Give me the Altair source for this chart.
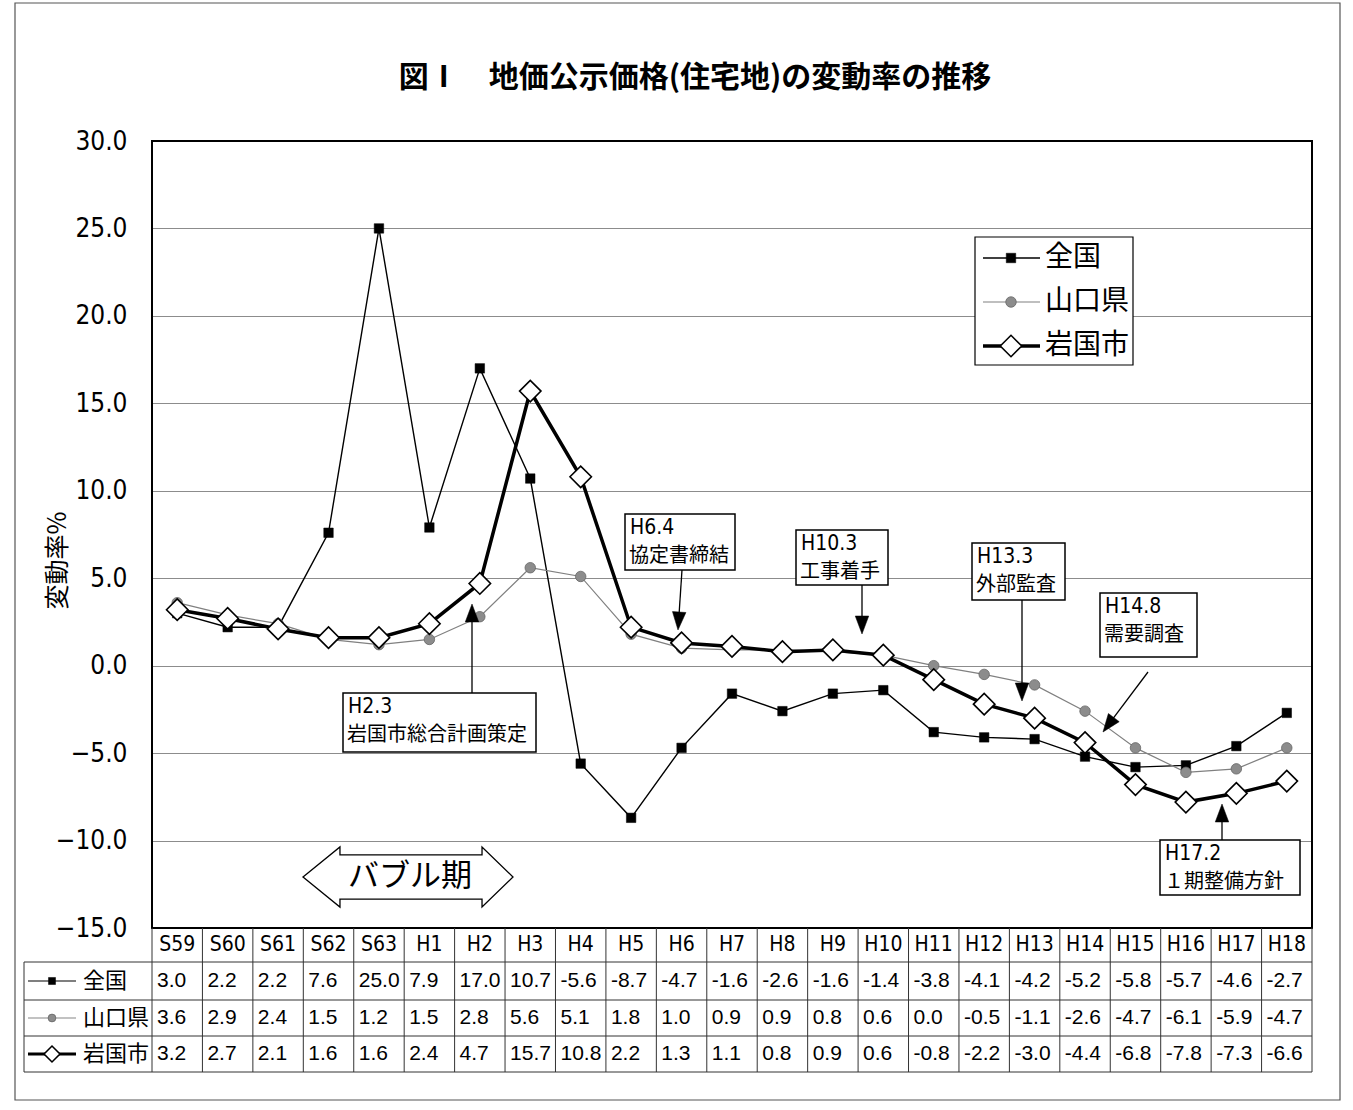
import math
import altair as alt
import pandas as pd

# ---------------- data ----------------
years = ["S59", "S60", "S61", "S62", "S63", "H1", "H2", "H3", "H4", "H5", "H6", "H7",
         "H8", "H9", "H10", "H11", "H12", "H13", "H14", "H15", "H16", "H17", "H18"]
zenkoku = [3.0, 2.2, 2.2, 7.6, 25.0, 7.9, 17.0, 10.7, -5.6, -8.7, -4.7, -1.6,
           -2.6, -1.6, -1.4, -3.8, -4.1, -4.2, -5.2, -5.8, -5.7, -4.6, -2.7]
yamaguchi = [3.6, 2.9, 2.4, 1.5, 1.2, 1.5, 2.8, 5.6, 5.1, 1.8, 1.0, 0.9,
             0.9, 0.8, 0.6, 0.0, -0.5, -1.1, -2.6, -4.7, -6.1, -5.9, -4.7]
iwakuni = [3.2, 2.7, 2.1, 1.6, 1.6, 2.4, 4.7, 15.7, 10.8, 2.2, 1.3, 1.1,
           0.8, 0.9, 0.6, -0.8, -2.2, -3.0, -4.4, -6.8, -7.8, -7.3, -6.6]
series_names = ["全国", "山口県", "岩国市"]
series_values = [zenkoku, yamaguchi, iwakuni]
y_ticks = [-15, -10, -5, 0, 5, 10, 15, 20, 25, 30]
title_text = "図Ⅰ　地価公示価格(住宅地)の変動率の推移"
y_title = "変動率%"
event_dates = ["H6.4", "H10.3", "H13.3", "H14.8", "H2.3", "H17.2"]
event_names = ["協定書締結", "工事着手", "外部監査", "需要調査", "岩国市総合計画策定", "１期整備方針"]
bubble_label = "バブル期"

# ---------------- layout (pixels) ----------------
L, T = 152, 141
W, HP = 1160, 787
TABLE_H = 144
NCOL = len(years)
COLW = W / NCOL
PPU = HP / 45.0
YMIN = -15 - TABLE_H / PPU
CANVAS_W, CANVAS_H = 1353, 1110

CJK = "Noto Sans CJK JP"
NARROW = "Liberation Sans Narrow, DejaVu Sans Condensed, Liberation Sans, sans-serif"
NUM = "Liberation Sans, sans-serif"


def fx(px):
    return -0.5 + (px - L) / COLW


def fy(py):
    return 30 - (py - T) / PPU


xs = alt.Scale(domain=[-0.5, NCOL - 0.5], nice=False, zero=False)
ys = alt.Scale(domain=[YMIN, 30], nice=False, zero=False)

y_axis = alt.Axis(values=y_ticks, format=".1f", grid=True, gridColor="#8c8c8c", gridWidth=1,
                  domain=False, ticks=False, tickSize=0, labelFont=NARROW, labelFontSize=26,
                  labelColor="black", labelPadding=25, labelFlush=False, labelOverlap=False,
                  labelBound=False, title=y_title, titleFont=CJK, titleFontSize=25,
                  titleFontWeight="normal", titleColor="black", titleAngle=270,
                  titleX=-95, titleY=419, titleAlign="center", titleBaseline="middle")


def X(f="x"):
    return alt.X(f"{f}:Q", scale=xs, axis=None)


def Y(f="y"):
    return alt.Y(f"{f}:Q", scale=ys, axis=y_axis)


STYLE = {
    "全国": dict(color="black", width=1.4, shape="square", size=90, fill="black",
               stroke="black", sw=0.5),
    "山口県": dict(color="#808080", width=1.2, shape="circle", size=110, fill="#8c8c8c",
                stroke="#666666", sw=0.8),
    "岩国市": dict(color="black", width=3.5, shape="diamond", size=460, fill="white",
                stroke="black", sw=1.6),
}

layers = []

# outer frame of the figure
outer = pd.DataFrame([{"x": fx(15), "x2": fx(1340), "y": fy(3), "y2": fy(1100)}])
layers.append(alt.Chart(outer).mark_rect(fillOpacity=0, stroke="#555555", strokeWidth=1.2)
              .encode(x=X(), x2="x2:Q", y=Y(), y2="y2:Q"))

# title
tdf = pd.DataFrame([{"x": fx(695), "y": fy(78), "t": title_text}])
layers.append(alt.Chart(tdf).mark_text(font=CJK, fontSize=30, fontWeight="bold", align="center",
                                        baseline="middle", color="black")
              .encode(x=X(), y=Y(), text="t:N"))

# plot frame
frame = pd.DataFrame([{"x": -0.5, "x2": NCOL - 0.5, "y": -15, "y2": 30}])
layers.append(alt.Chart(frame).mark_rect(fillOpacity=0, stroke="black", strokeWidth=2)
              .encode(x=X(), x2="x2:Q", y=Y(), y2="y2:Q"))

# ---------------- table ----------------
row_off = [0, 34, 72, 108, 144]
vr = [{"x": i - 0.5, "x2": i - 0.5, "y": -15, "y2": YMIN} for i in range(NCOL + 1)]
vr.append({"x": fx(L - 128), "x2": fx(L - 128), "y": fy(T + HP + row_off[1]), "y2": YMIN})
for off in row_off[1:]:
    vr.append({"x": fx(L - 128), "x2": NCOL - 0.5, "y": fy(T + HP + off), "y2": fy(T + HP + off)})
layers.append(alt.Chart(pd.DataFrame(vr)).mark_rule(color="#333333", strokeWidth=1)
              .encode(x=X(), x2="x2:Q", y=Y(), y2="y2:Q"))

hdr = pd.DataFrame([{"x": i, "y": fy(T + HP + 17), "t": yr} for i, yr in enumerate(years)])
layers.append(alt.Chart(hdr).mark_text(font=NARROW, fontSize=21, align="center", baseline="middle",
                                        color="black")
              .encode(x=X(), y=Y(), text="t:N"))

row_centers = [53, 90, 126]
vals = []
for r, (name, arr) in enumerate(zip(series_names, series_values)):
    for i, v in enumerate(arr):
        vals.append({"x": i - 0.5, "y": fy(T + HP + row_centers[r]), "t": f"{v:.1f}"})
layers.append(alt.Chart(pd.DataFrame(vals)).mark_text(font=NUM, fontSize=21, align="left",
                                                      baseline="middle", dx=5, color="black")
              .encode(x=X(), y=Y(), text="t:N"))


def legend_sample(name, x0, x1, xm, xt, cy, fsize, msize_scale, line_scale=1.0):
    st = STYLE[name]
    out = []
    ln = pd.DataFrame([{"x": fx(x0), "x2": fx(x1), "y": fy(cy), "y2": fy(cy)}])
    out.append(alt.Chart(ln).mark_rule(color=st["color"], strokeWidth=st["width"] * line_scale)
               .encode(x=X(), x2="x2:Q", y=Y(), y2="y2:Q"))
    pt = pd.DataFrame([{"x": fx(xm), "y": fy(cy)}])
    out.append(alt.Chart(pt).mark_point(shape=st["shape"], size=st["size"] * msize_scale,
                                        filled=True, fill=st["fill"], stroke=st["stroke"],
                                        strokeWidth=st["sw"], opacity=1)
               .encode(x=X(), y=Y()))
    tx = pd.DataFrame([{"x": fx(xt), "y": fy(cy), "t": name}])
    out.append(alt.Chart(tx).mark_text(font=CJK, fontSize=fsize, align="left", baseline="middle",
                                       color="black")
               .encode(x=X(), y=Y(), text="t:N"))
    return out


for r, name in enumerate(series_names):
    layers += legend_sample(name, L - 124, L - 76, L - 100, L - 69,
                            T + HP + row_centers[r], 22, 0.55, 0.8)

# ---------------- series ----------------
for name, arr in zip(series_names, series_values):
    st = STYLE[name]
    df = pd.DataFrame({"x": list(range(NCOL)), "y": arr, "year": years})
    layers.append(alt.Chart(df).mark_line(color=st["color"], strokeWidth=st["width"])
                  .encode(x=X(), y=Y()))
for name, arr in zip(series_names, series_values):
    st = STYLE[name]
    df = pd.DataFrame({"x": list(range(NCOL)), "y": arr, "year": years})
    layers.append(alt.Chart(df).mark_point(shape=st["shape"], size=st["size"], filled=True,
                                           fill=st["fill"], stroke=st["stroke"],
                                           strokeWidth=st["sw"], opacity=1)
                  .encode(x=X(), y=Y()))

# ---------------- in-plot legend ----------------
lbox = pd.DataFrame([{"x": fx(975), "x2": fx(1133), "y": fy(237), "y2": fy(365)}])
layers.append(alt.Chart(lbox).mark_rect(fill="white", stroke="black", strokeWidth=1.2)
              .encode(x=X(), x2="x2:Q", y=Y(), y2="y2:Q"))
for name, cy in zip(series_names, [258, 302, 346]):
    layers += legend_sample(name, 983, 1040, 1011, 1045, cy, 28, 1.0, 1.0)

# ---------------- annotations ----------------
boxes = [(625, 514, 735, 570), (796, 530, 888, 585), (972, 543, 1065, 600),
         (1100, 593, 1197, 657), (343, 693, 536, 752), (1160, 840, 1300, 895)]
arrows = [((682, 570), (678, 630)), ((862, 585), (862, 634)), ((1022, 600), (1022, 701)),
          ((1148, 672), (1103, 732)), ((472, 693), (472, 604)), ((1222, 840), (1222, 804))]

brows, trows, arows, hrows = [], [], [], []
HEAD = 18
for (d, n, (x0, y0, x1, y1), (a0, a1)) in zip(event_dates, event_names, boxes, arrows):
    brows.append({"x": fx(x0), "x2": fx(x1), "y": fy(y0), "y2": fy(y1)})
    trows.append({"x": fx(x0), "y": fy(y0 + 14), "t": d, "k": "d"})
    trows.append({"x": fx(x0), "y": fy(y0 + 42), "t": n, "k": "n"})
    dx, dy = a1[0] - a0[0], a1[1] - a0[1]
    ln = math.hypot(dx, dy)
    ux, uy = dx / ln, dy / ln
    bx, by = a1[0] - ux * HEAD, a1[1] - uy * HEAD
    arows.append({"x": fx(a0[0]), "x2": fx(bx + ux * 2), "y": fy(a0[1]), "y2": fy(by + uy * 2)})
    ang = math.degrees(math.atan2(-ux, uy)) % 360
    hrows.append({"x": fx(a1[0] - ux * HEAD / 2), "y": fy(a1[1] - uy * HEAD / 2), "ang": ang})

layers.append(alt.Chart(pd.DataFrame(arows)).mark_rule(color="black", strokeWidth=1.3)
              .encode(x=X(), x2="x2:Q", y=Y(), y2="y2:Q"))
layers.append(alt.Chart(pd.DataFrame(hrows))
              .mark_point(shape="M0,1L-0.75,-1L0.75,-1Z", size=HEAD * HEAD, filled=True,
                          fill="black", stroke="black", strokeWidth=0.5, opacity=1)
              .encode(x=X(), y=Y(), angle=alt.Angle("ang:Q", scale=None)))
layers.append(alt.Chart(pd.DataFrame(brows)).mark_rect(fill="white", stroke="black", strokeWidth=1.5)
              .encode(x=X(), x2="x2:Q", y=Y(), y2="y2:Q"))
tdf2 = pd.DataFrame(trows)
layers.append(alt.Chart(tdf2[tdf2.k == "d"]).mark_text(font=NARROW, fontSize=21, align="left",
                                                       baseline="middle", dx=5, color="black")
              .encode(x=X(), y=Y(), text="t:N"))
layers.append(alt.Chart(tdf2[tdf2.k == "n"]).mark_text(font=CJK, fontSize=20, align="left",
                                                       baseline="middle", dx=4, color="black")
              .encode(x=X(), y=Y(), text="t:N"))

# bubble period double arrow
bub = pd.DataFrame([{"x": fx(408), "y": fy(877), "t": bubble_label}])
bpath = ("M-1,0L-0.648,-0.286L-0.648,-0.21L0.705,-0.21L0.705,-0.286L1,0"
         "L0.705,0.286L0.705,0.21L-0.648,0.21L-0.648,0.286Z")
layers.append(alt.Chart(bub).mark_point(shape=bpath, size=210 * 210, filled=True, fill="white",
                                        stroke="black", strokeWidth=1.3, opacity=1)
              .encode(x=X(), y=Y()))
layers.append(alt.Chart(bub).mark_text(font=CJK, fontSize=31, align="center", baseline="middle",
                                       color="black", dx=2)
              .encode(x=X(), y=Y(), text="t:N"))

chart = alt.layer(*layers).properties(
    width=W, height=HP + TABLE_H,
    padding={"left": L, "top": T, "right": CANVAS_W - L - W, "bottom": CANVAS_H - T - HP - TABLE_H},
    autosize=alt.AutoSizeParams(type="none"),
    background="white",
).configure_view(stroke=None)

chart.save("out.html", embed_options={"renderer": "svg", "actions": False})
